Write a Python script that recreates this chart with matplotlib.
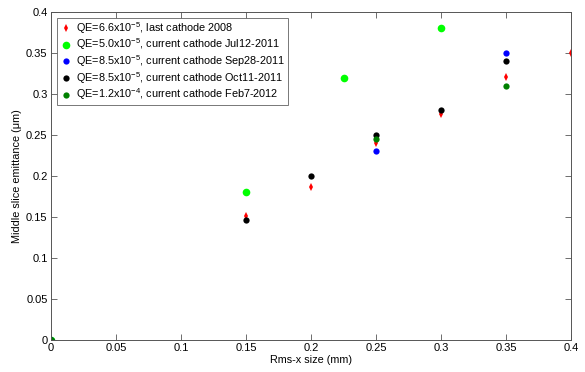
import matplotlib
matplotlib.use('Agg')
import matplotlib.pyplot as plt

plt.rcParams['font.family'] = ['Liberation Sans', 'DejaVu Sans']

# data
x_2008 = [0, 0.15, 0.2, 0.25, 0.3, 0.35, 0.4]
y_2008 = [0, 0.151, 0.186, 0.24, 0.275, 0.321, 0.35]
x_jul = [0, 0.15, 0.225, 0.3]
y_jul = [0, 0.181, 0.32, 0.38]
x_sep = [0, 0.25, 0.35]
y_sep = [0, 0.231, 0.35]
x_oct = [0, 0.15, 0.2, 0.25, 0.3, 0.35]
y_oct = [0, 0.146, 0.2, 0.25, 0.28, 0.34]
x_feb = [0, 0.25, 0.35]
y_feb = [0, 0.245, 0.31]

labels = [r'QE=6.6x10$^{\mathregular{-5}}$, last cathode 2008',
          r'QE=5.0x10$^{\mathregular{-5}}$, current cathode Jul12-2011',
          r'QE=8.5x10$^{\mathregular{-5}}$, current cathode Sep28-2011',
          r'QE=8.5x10$^{\mathregular{-5}}$, current cathode Oct11-2011',
          r'QE=1.2x10$^{\mathregular{-4}}$, current cathode Feb7-2012']

ticks = [0, 0.05, 0.1, 0.15, 0.2, 0.25, 0.3, 0.35, 0.4]
tick_labels = ['0', '0.05', '0.1', '0.15', '0.2', '0.25', '0.3', '0.35', '0.4']

fig = plt.figure(figsize=(5.85, 3.72), dpi=100)
ax = fig.add_axes([0.0872, 0.086, 0.889, 0.882])

ax.plot(x_2008, y_2008, 'd', color='red', markersize=4, markeredgewidth=0, label=labels[0])
ax.plot(x_jul, y_jul, 'o', color='#00ff00', markersize=5.5, markeredgewidth=0, label=labels[1])
ax.plot(x_sep, y_sep, 'o', color='blue', markersize=4.5, markeredgewidth=0, label=labels[2])
ax.plot(x_oct, y_oct, 'o', color='black', markersize=4.5, markeredgewidth=0, label=labels[3])
ax.plot(x_feb, y_feb, 'o', color='#008000', markersize=4.5, markeredgewidth=0, label=labels[4])

ax.set_xlim(0, 0.4)
ax.set_ylim(0, 0.4)
ax.set_xticks(ticks)
ax.set_xticklabels(tick_labels)
ax.set_yticks(ticks)
ax.set_yticklabels(tick_labels)
ax.tick_params(direction='in', top=True, right=True, labelsize=8,
               length=4, width=0.6, color='#555555', pad=2.5)
for s in ax.spines.values():
    s.set_color('#555555')
    s.set_linewidth(0.7)

ax.set_xlabel('Rms-x size (mm)', fontsize=7.8, labelpad=1)
ax.set_ylabel('Middle slice emittance (\u03bcm)', fontsize=7.8, labelpad=3)

leg = ax.legend(loc='upper left', fontsize=7.8, frameon=True, fancybox=False,
                handlelength=1.2, handletextpad=0.4, borderpad=0.2,
                labelspacing=0.08, borderaxespad=0.55)
leg.get_frame().set_edgecolor('#555555')
leg.get_frame().set_linewidth(0.7)

fig.savefig('out.png', dpi=100)
